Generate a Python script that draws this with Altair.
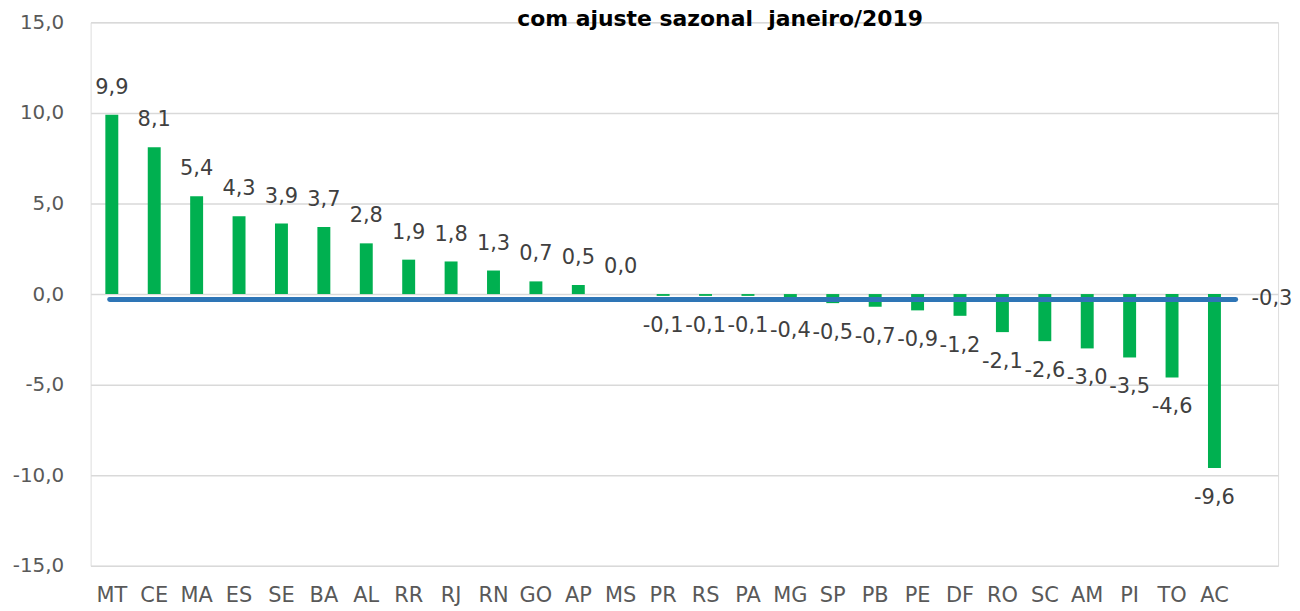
import altair as alt
import pandas as pd

categories = ["MT", "CE", "MA", "ES", "SE", "BA", "AL", "RR", "RJ", "RN", "GO", "AP", "MS", "PR",
              "RS", "PA", "MG", "SP", "PB", "PE", "DF", "RO", "SC", "AM", "PI", "TO", "AC"]
values = [9.9, 8.1, 5.4, 4.3, 3.9, 3.7, 2.8, 1.9, 1.8, 1.3, 0.7, 0.5, 0.0, -0.1,
          -0.1, -0.1, -0.4, -0.5, -0.7, -0.9, -1.2, -2.1, -2.6, -3.0, -3.5, -4.6, -9.6]
brasil = -0.3
y_ticks = [-15, -10, -5, 0, 5, 10, 15]
title_text = "com ajuste sazonal \u00a0janeiro/2019"

domain = categories + [" "]

def fmt(v):
    return f"{v:.1f}".replace(".", ",")

df = pd.DataFrame({"uf": categories, "v": values})
df["lbl"] = [fmt(v) for v in values]
bdf = pd.DataFrame({"v": [brasil], "lbl": [fmt(brasil)]})

FONT = "DejaVu Sans"
xscale = alt.Scale(domain=domain, paddingInner=0, paddingOuter=0)

base = alt.Chart(df)

bars = base.mark_bar(size=13, color="#00B050").encode(
    x=alt.X("uf:N", scale=xscale, sort=domain,
            axis=alt.Axis(title=None, labelAngle=0, ticks=False, tickSize=0, domain=False,
                          grid=False, labelFont=FONT, labelFontSize=21, labelColor="#595959",
                          labelPadding=19)),
    y=alt.Y("v:Q", scale=alt.Scale(domain=[-15, 15], nice=False, zero=False),
            axis=alt.Axis(title=None, values=y_ticks, ticks=False, domain=False,
                          grid=True, gridColor="#D9D9D9", gridWidth=1.5,
                          labelFont=FONT, labelFontSize=20, labelColor="#595959",
                          labelPadding=27,
                          labelExpr="replace(replace(format(datum.value, '.1f'), '.', ','), '\u2212', '-')")),
)

rule = alt.Chart(bdf).mark_rule(color="#2E75B6", strokeWidth=5, strokeCap="round").encode(
    x=alt.XDatum("MT", type="nominal", bandPosition=0.45),
    x2=alt.X2Datum("AC", bandPosition=1.0),
    y="v:Q",
)

lbl_pos = base.transform_filter("datum.v >= 0").mark_text(
    font=FONT, fontSize=21, color="#404040", baseline="middle", dy=-27
).encode(x=alt.X("uf:N", sort=domain), y="v:Q", text="lbl:N")

lbl_neg = base.transform_filter("datum.v < 0").mark_text(
    font=FONT, fontSize=21, color="#404040", baseline="middle", dy=30
).encode(x=alt.X("uf:N", sort=domain), y="v:Q", text="lbl:N")

brasil_lbl = alt.Chart(bdf).mark_text(
    font=FONT, fontSize=21, color="#404040", baseline="middle", align="left", dx=16
).encode(x=alt.XDatum(" ", type="nominal", bandPosition=0.0), y="v:Q", text="lbl:N")

chart = alt.layer(bars, rule, lbl_pos, lbl_neg, brasil_lbl).properties(
    width=1193,
    height=546,
    title=alt.TitleParams(title_text, font=FONT, fontSize=22, fontWeight="bold",
                          color="#000000", anchor="middle", dx=36, offset=-19),
    autosize=alt.AutoSizeParams(type="none"),
    padding={"left": 83, "top": 13, "right": 14, "bottom": 44},
).configure_view(stroke=None).configure(background="white")

chart.save("out.html", embed_options={"renderer": "svg", "actions": False})
